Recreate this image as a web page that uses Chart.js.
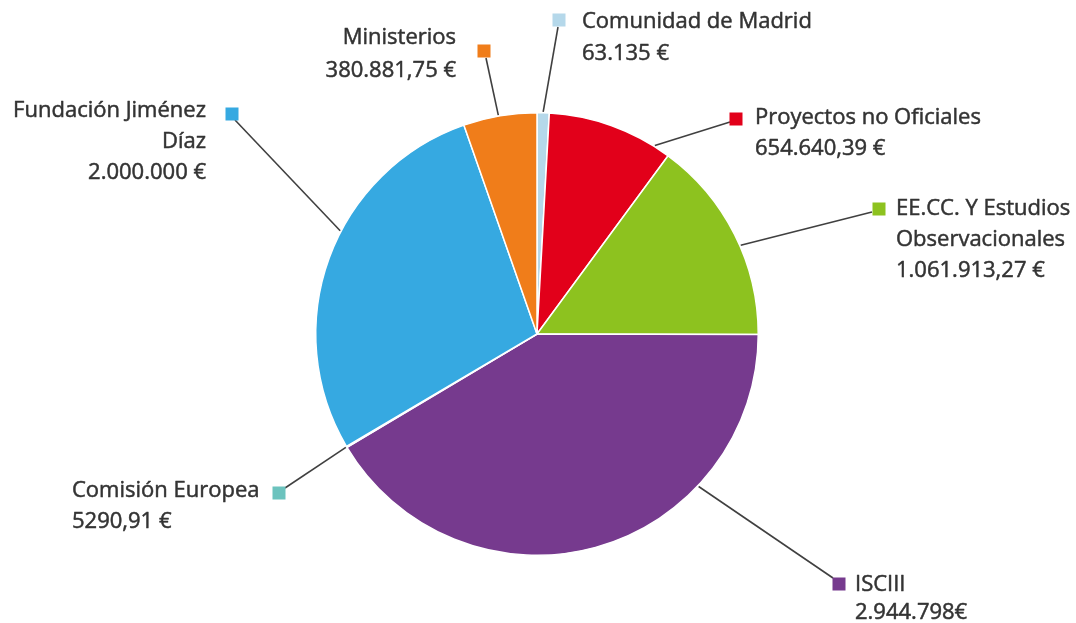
<!DOCTYPE html>
<html>
<head>
<meta charset="utf-8">
<script src="https://cdn.jsdelivr.net/npm/chart.js@4.4.1/dist/chart.umd.min.js"></script>
<style>
  html, body { margin: 0; padding: 0; background: #ffffff; }
  #wrap { width: 1076px; height: 623px; position: relative; }
</style>
</head>
<body>
<div id="wrap"><canvas id="c" width="1076" height="623"></canvas></div>
<script>
// ---- Data (clockwise from 12 o'clock) ----
const categories = [
  "Comunidad de Madrid",
  "Proyectos no Oficiales",
  "EE.CC. Y Estudios Observacionales",
  "ISCIII",
  "Comisión Europea",
  "Fundación Jiménez Díaz",
  "Ministerios"
];
const amounts = [63135, 654640.39, 1061913.27, 2944798, 5290.91, 2000000, 380881.75];
const amountLabels = ["63.135 €", "654.640,39 €", "1.061.913,27 €", "2.944.798€", "5290,91 €", "2.000.000 €", "380.881,75 €"];
const sliceColors = ["#B5D8EA", "#E2001A", "#8DC21F", "#763A8E", "#6CC3BE", "#36A9E1", "#F07D1A"];

// ---- Label layout (positions only) ----
const labelLayout = [
  { marker: [559, 20], lineFrom: [558, 27], frac: 0.5,  align: "left",  x: 582, y: 28, lh: 32, maxW: 400 },
  { marker: [736, 119], lineFrom: [730, 122], frac: 0.87, align: "left",  x: 755, y: 124, lh: 31, maxW: 400 },
  { marker: [879, 209], lineFrom: [872, 212], frac: 0.56, align: "left",  x: 896, y: 215, lh: 31, maxW: 185 },
  { marker: [839, 584], lineFrom: [833, 578], frac: 0.29, align: "left",  x: 855, y: 591, lh: 28, maxW: 400 },
  { marker: [279, 493], lineFrom: [285, 488], frac: 0.5,  align: "left",  x: 72,  y: 497, lh: 31, maxW: 400, valueAlign: "left" },
  { marker: [232, 114], lineFrom: [235, 120], frac: 0.575, align: "right", x: 206, y: 117, lh: 31, maxW: 205 },
  { marker: [484, 51], lineFrom: [486, 58], frac: 0.48, align: "right", x: 456, y: 44, lh: 33, maxW: 400 }
];

const FONT = "22px 'Open Sans', 'Liberation Sans', sans-serif";
const TEXT_COLOR = "#333333";

function wrap(ctx, text, maxW) {
  const words = text.split(" ");
  const lines = [];
  let cur = "";
  for (const w of words) {
    const t = cur ? cur + " " + w : w;
    if (ctx.measureText(t).width > maxW && cur) { lines.push(cur); cur = w; }
    else cur = t;
  }
  if (cur) lines.push(cur);
  return lines;
}

function drawText(ctx, txt, x, y) {
  ctx.strokeText(txt, x, y);
  ctx.fillText(txt, x, y);
}

const labelPlugin = {
  id: "calloutLabels",
  afterDatasetsDraw(chart) {
    const ctx = chart.ctx;
    const meta = chart.getDatasetMeta(0);
    ctx.save();
    ctx.font = FONT;
    meta.data.forEach((arc, i) => {
      const L = labelLayout[i];
      const p = arc.getProps(["x", "y", "startAngle", "endAngle", "outerRadius"], true);
      const a = p.startAngle + L.frac * (p.endAngle - p.startAngle);
      const ax = p.x + Math.cos(a) * (p.outerRadius + 1);
      const ay = p.y + Math.sin(a) * (p.outerRadius + 1);
      // leader line
      ctx.strokeStyle = "#404040";
      ctx.lineWidth = 1.6;
      ctx.beginPath();
      ctx.moveTo(L.lineFrom[0], L.lineFrom[1]);
      ctx.lineTo(ax, ay);
      ctx.stroke();
      // marker
      const s = 13;
      ctx.fillStyle = sliceColors[i];
      ctx.fillRect(L.marker[0] - s / 2, L.marker[1] - s / 2, s, s);
      // text
      ctx.fillStyle = TEXT_COLOR;
      ctx.strokeStyle = TEXT_COLOR;
      ctx.lineWidth = 0.5;
      ctx.lineJoin = "round";
      ctx.textBaseline = "alphabetic";
      const lines = wrap(ctx, categories[i], L.maxW);
      lines.forEach((ln, k) => {
        ctx.textAlign = L.align;
        drawText(ctx, ln, L.x, L.y + k * L.lh);
      });
      ctx.textAlign = L.valueAlign || L.align;
      drawText(ctx, amountLabels[i], L.x, L.y + lines.length * L.lh);
    });
    ctx.restore();
  }
};

new Chart(document.getElementById("c"), {
  type: "pie",
  data: {
    labels: categories,
    datasets: [{
      data: amounts,
      backgroundColor: sliceColors,
      borderColor: "#ffffff",
      borderWidth: 1.5
    }]
  },
  options: {
    responsive: false,
    devicePixelRatio: 1,
    animation: false,
    rotation: 0,
    layout: { padding: { top: 111, bottom: 66, left: 315, right: 317 } },
    plugins: { legend: { display: false }, tooltip: { enabled: false } }
  },
  plugins: [labelPlugin]
});
</script>
</body>
</html>
